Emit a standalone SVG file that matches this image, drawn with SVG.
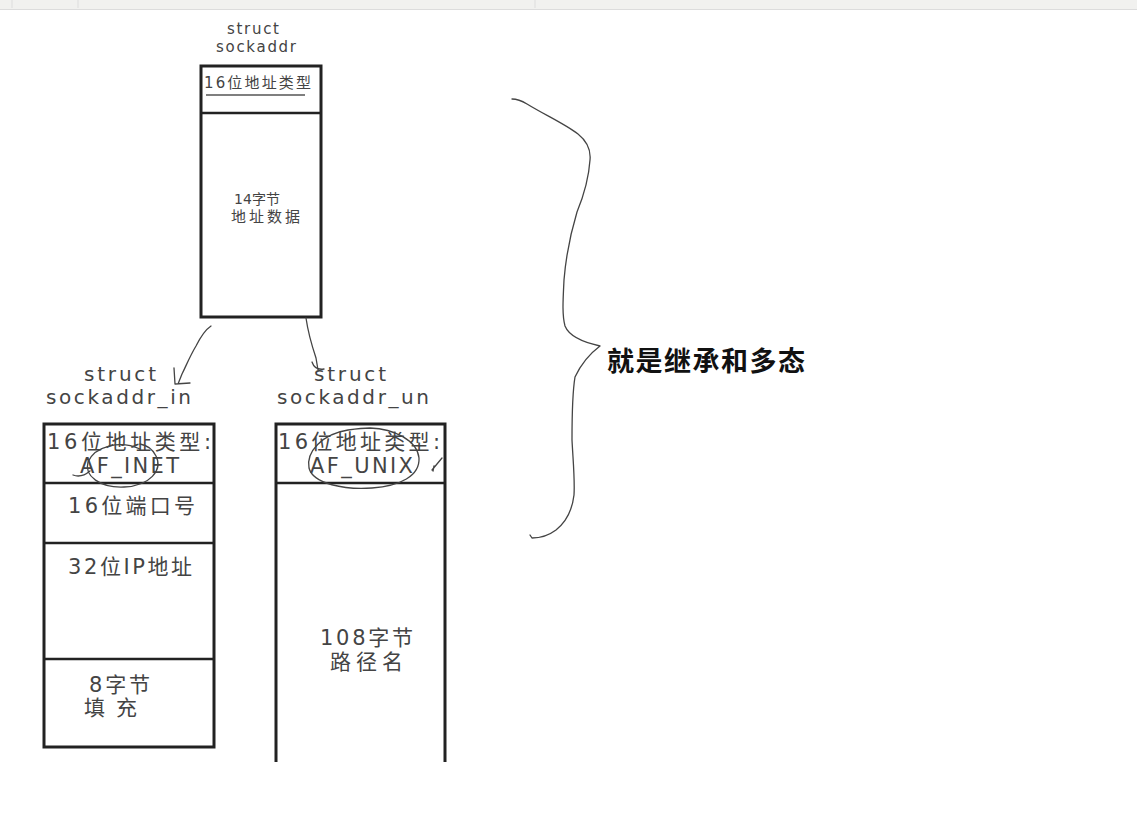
<svg xmlns="http://www.w3.org/2000/svg" width="1137" height="815" viewBox="0 0 1137 815">
<style>
.box{fill:#fff;stroke:#222;stroke-width:3}
.div{stroke:#222;stroke-width:2.5;fill:none}
.t{font-family:"DejaVu Sans","Noto Sans CJK SC",sans-serif;fill:#444}
.m{font-size:21px}
.hand{fill:none;stroke:#444;stroke-width:1.3;stroke-linecap:round;stroke-linejoin:round}
</style>
<rect width="1137" height="815" fill="#fff"/>
<g id="topbar">
<rect x="0" y="0" width="1137" height="10" fill="#f1f1ef"/>
<line x1="0" y1="9.5" x2="1137" y2="9.5" stroke="#dcdcdc" stroke-width="1"/>
<line x1="12" y1="0" x2="12" y2="8" stroke="#ddd"/>
<line x1="78" y1="0" x2="78" y2="8" stroke="#ddd"/>
<line x1="535" y1="0" x2="535" y2="8" stroke="#ddd"/>
</g>
<g id="sockaddr">
<text class="t" x="227" y="34" font-size="15" textLength="52" lengthAdjust="spacing">struct</text>
<text class="t" x="216" y="52" font-size="15" textLength="80" lengthAdjust="spacing">sockaddr</text>
<rect class="box" x="201" y="66" width="120" height="251"/>
<line class="div" x1="201" y1="113" x2="321" y2="113"/>
<text class="t" x="204" y="88" font-size="15" textLength="107" lengthAdjust="spacing">16位地址类型</text>
<line x1="206" y1="95" x2="305" y2="95" stroke="#555" stroke-width="1.5"/>
<text class="t" x="257" y="204" font-size="14" text-anchor="middle">14字节</text>
<text class="t" x="231" y="222" font-size="15" textLength="69" lengthAdjust="spacing">地址数据</text>
</g>
<g id="sockaddr_in">
<text class="t" x="84" y="381" font-size="20" textLength="72" lengthAdjust="spacing">struct</text>
<text class="t" x="46" y="404" font-size="20" textLength="145" lengthAdjust="spacing">sockaddr_in</text>
<rect class="box" x="44" y="424" width="170" height="323"/>
<line class="div" x1="44" y1="483" x2="214" y2="483"/>
<line class="div" x1="44" y1="543" x2="214" y2="543"/>
<line class="div" x1="44" y1="659" x2="214" y2="659"/>
<text class="t m" x="47" y="449" textLength="164" lengthAdjust="spacing">16位地址类型:</text>
<text class="t m" x="80" y="473" textLength="99" lengthAdjust="spacing">AF_INET</text>
<path class="hand" d="M140,449 C120,440 95,446 88,462 C84,476 100,488 124,487 C150,486 163,470 156,456 C152,448 146,445 140,444 M90,471 C84,476 78,477 73,475"/>
<text class="t" x="68" y="513" font-size="21" textLength="127" lengthAdjust="spacing">16位端口号</text>
<text class="t" x="68" y="574" font-size="21" textLength="124" lengthAdjust="spacing">32位IP地址</text>
<text class="t" x="89" y="692" font-size="21" textLength="61" lengthAdjust="spacing">8字节</text>
<text class="t" x="84" y="715" font-size="21" textLength="53" lengthAdjust="spacing">填充</text>
</g>
<g id="sockaddr_un">
<text class="t" x="314" y="381" font-size="20" textLength="72" lengthAdjust="spacing">struct</text>
<text class="t" x="277" y="404" font-size="20" textLength="152" lengthAdjust="spacing">sockaddr_un</text>
<path class="box" d="M276,762 V424 H445 V762"/>
<line class="div" x1="276" y1="483" x2="445" y2="483"/>
<text class="t m" x="278" y="449" textLength="162" lengthAdjust="spacing">16位地址类型:</text>
<text class="t m" x="310" y="473" textLength="103" lengthAdjust="spacing">AF_UNIX</text>
<path class="hand" d="M348,430 C322,434 306,452 309,468 C313,484 345,490 372,488 C400,486 420,476 419,458 C417,440 394,429 370,428 C362,428 355,429 348,430"/>
<path class="hand" d="M432,470 L442,458 M433,471 L434,466"/>
<text class="t" x="320" y="645" font-size="21" textLength="93" lengthAdjust="spacing">108字节</text>
<text class="t" x="330" y="669" font-size="21" textLength="73" lengthAdjust="spacing">路径名</text>
</g>
<g id="connectors">
<path class="hand" d="M211,326 C205,330 200,338 196,346 C190,356 186,366 182,374 L178,384 M174,368 L175,384 L190,383"/>
<path class="hand" d="M306,318 C308,332 312,346 316,358 L318,370 M312,362 C314,368 318,370 324,369"/>
</g>
<g id="brace">
<path class="hand" d="M512,99 C518,99 522,101 527,104 C545,115 565,124 578,134 C588,142 591,150 590,160 C589,175 584,195 577,212 C571,232 566,255 564,280 C563,300 562,315 565,326 C569,336 582,342 600,346 C592,352 582,362 575,377 C572,395 572,420 572,440 C573,460 575,480 574,495 C572,512 566,522 556,530 C548,536 540,538 532,538 L530,535"/>
<text x="607" y="371" font-family="'Noto Sans CJK SC',sans-serif" font-weight="bold" font-size="27" fill="#111" textLength="198" lengthAdjust="spacing">就是继承和多态</text>
</g>
</svg>
